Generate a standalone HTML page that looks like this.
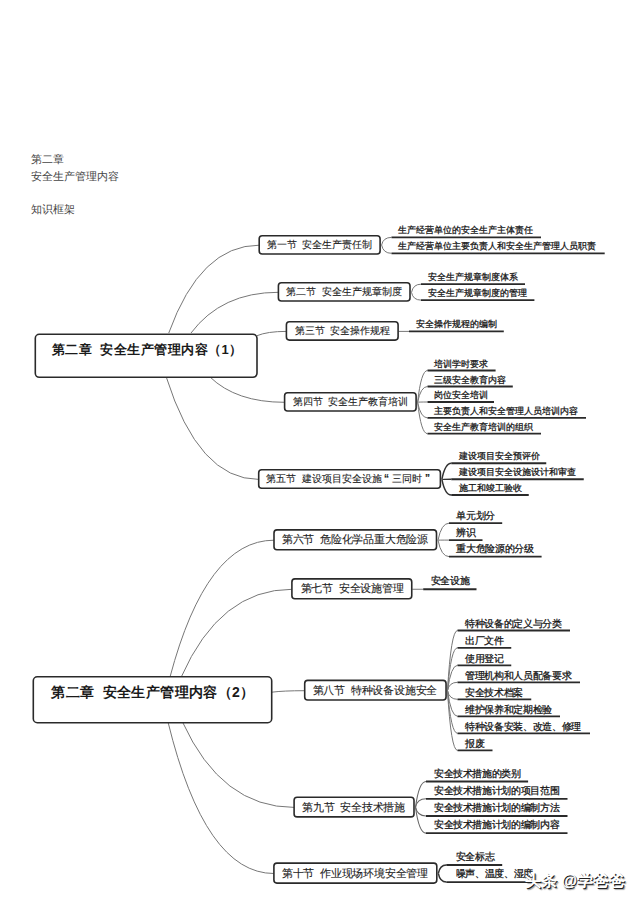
<!DOCTYPE html>
<html><head><meta charset="utf-8"><style>
html,body{margin:0;padding:0;background:#fff;width:640px;height:905px;overflow:hidden;position:relative}
body{font-family:"Liberation Sans", sans-serif;color:#222}
.bx{position:absolute;border-style:solid;border-color:#333;background:#fff;box-sizing:content-box}
.t{position:absolute;white-space:nowrap;color:#111;-webkit-text-stroke:0.25px #111}
.hd{position:absolute;left:31px;font-family:"Liberation Serif", serif;font-size:11px;line-height:11px;color:#444;white-space:nowrap}
svg{position:absolute;left:0;top:0}
svg path{fill:none;stroke:#777;stroke-width:1}
svg path.u{stroke:#2a2a2a;stroke-width:1.8}
svg rect{fill:#fff;stroke:#2a2a2a}
svg path.dk{stroke:#333;stroke-width:1.5}
svg path.md{stroke:#666;stroke-width:1.1}
.wm{position:absolute;left:525px;top:873px;font-size:16px;line-height:16px;font-weight:bold;color:#fff;text-shadow:1px 1px 0.6px #222,1.5px 1.5px 1px rgba(0,0,0,.35);white-space:nowrap}
</style></head><body>
<div class="hd" style="top:154px">第二章</div>
<div class="hd" style="top:170.5px">安全生产管理内容</div>
<div class="hd" style="top:204px">知识框架</div>
<svg width="640" height="905" viewBox="0 0 640 905">
<path d="M168.75,333.00 Q200.41,245.20 259.20,245.20" />
<path d="M191.00,333.00 Q221.59,292.30 278.40,292.30" />
<path d="M257.00,335.70 Q267.29,331.40 286.40,331.40" />
<path d="M210.00,377.00 Q236.11,402.30 284.60,402.30" />
<path d="M166.25,377.00 Q198.61,479.40 258.70,479.40" />
<path d="M381.60,245.00 Q383.12,237.40 391.50,237.40" />
<path class="u" d="M391.50,237.40 L541.00,237.40" />
<path d="M381.60,245.00 Q383.26,253.30 391.50,253.30" />
<path class="u" d="M391.50,253.30 L604.70,253.30" />
<path d="M411.50,292.40 Q413.14,284.20 421.00,284.20" />
<path class="u" d="M421.00,284.20 L525.00,284.20" />
<path d="M411.50,292.40 Q413.04,300.10 421.00,300.10" />
<path class="u" d="M421.00,300.10 L534.40,300.10" />
<path d="M398.60,331.40 L409.00,331.40" />
<path class="u" d="M409.00,331.40 L503.80,331.40" />
<path d="M417.60,402.30 Q421.10,370.50 427.50,370.50" />
<path class="u" d="M427.50,370.50 L495.60,370.50" />
<path d="M417.60,402.30 Q420.76,386.50 427.50,386.50" />
<path class="u" d="M427.50,386.50 L512.80,386.50" />
<path d="M417.60,402.30 Q417.66,402.00 427.50,402.00" />
<path class="u" d="M427.50,402.00 L494.00,402.00" />
<path d="M417.60,402.30 Q420.72,417.90 427.50,417.90" />
<path class="u" d="M427.50,417.90 L586.00,417.90" />
<path d="M417.60,402.30 Q421.10,433.70 427.50,433.70" />
<path class="u" d="M427.50,433.70 L541.00,433.70" />
<path d="M441.90,479.30 Q445.11,463.25 451.25,463.25" class="dk" />
<path class="u" d="M451.25,463.25 L546.25,463.25" />
<path d="M441.90,479.30 Q441.91,479.25 451.25,479.25" class="dk" />
<path class="u" d="M451.25,479.25 L583.75,479.25" />
<path d="M441.90,479.30 Q445.04,495.00 451.25,495.00" class="dk" />
<path class="u" d="M451.25,495.00 L528.75,495.00" />
<path d="M170.00,677.00 Q206.40,540.20 274.00,540.20" />
<path d="M181.25,677.00 Q219.98,589.30 291.90,589.30" />
<path d="M271.70,692.20 Q283.25,690.70 304.70,690.70" />
<path d="M182.50,722.00 Q221.56,807.40 294.10,807.40" />
<path d="M168.00,722.00 Q205.06,873.50 273.90,873.50" />
<path d="M438.00,540.20 Q441.40,523.20 449.00,523.20" />
<path class="u" d="M449.00,523.20 L502.20,523.20" />
<path d="M438.00,540.20 Q438.02,540.10 449.00,540.10" />
<path class="u" d="M449.00,540.10 L482.50,540.10" />
<path d="M438.00,540.20 Q441.28,556.60 449.00,556.60" />
<path class="u" d="M449.00,556.60 L541.60,556.60" />
<path d="M412.25,589.25 L423.20,589.25" />
<path class="u" d="M423.20,589.25 L476.50,589.25" />
<path d="M447.50,690.60 Q451.00,630.50 457.50,630.50" />
<path class="u" d="M457.50,630.50 L570.00,630.50" />
<path d="M447.50,690.60 Q451.00,647.80 457.50,647.80" />
<path class="u" d="M457.50,647.80 L511.25,647.80" />
<path d="M447.50,690.60 Q451.00,665.30 457.50,665.30" />
<path class="u" d="M457.50,665.30 L511.25,665.30" />
<path d="M447.50,690.60 Q449.16,682.30 457.50,682.30" />
<path class="u" d="M457.50,682.30 L580.00,682.30" />
<path d="M447.50,690.60 Q449.24,699.30 457.50,699.30" />
<path class="u" d="M457.50,699.30 L531.25,699.30" />
<path d="M447.50,690.60 Q451.00,716.30 457.50,716.30" />
<path class="u" d="M457.50,716.30 L560.00,716.30" />
<path d="M447.50,690.60 Q451.00,733.30 457.50,733.30" />
<path class="u" d="M457.50,733.30 L590.00,733.30" />
<path d="M447.50,690.60 Q451.00,750.40 457.50,750.40" />
<path class="u" d="M457.50,750.40 L492.50,750.40" />
<path d="M415.50,807.20 Q419.00,781.50 426.00,781.50" class="md" />
<path class="u" d="M426.00,781.50 L528.10,781.50" />
<path d="M415.50,807.20 Q417.18,798.80 426.00,798.80" class="md" />
<path class="u" d="M426.00,798.80 L567.50,798.80" />
<path d="M415.50,807.20 Q417.26,816.00 426.00,816.00" class="md" />
<path class="u" d="M426.00,816.00 L567.50,816.00" />
<path d="M415.50,807.20 Q419.00,833.10 426.00,833.10" class="md" />
<path class="u" d="M426.00,833.10 L567.50,833.10" />
<path d="M438.30,873.40 Q439.98,865.00 446.30,865.00" class="dk" />
<path class="u" d="M446.30,865.00 L502.20,865.00" />
<path d="M438.30,873.40 Q440.04,882.10 446.30,882.10" class="dk" />
<path class="u" d="M446.30,882.10 L530.00,882.10" />
<rect x="35.30" y="334.30" width="221.70" height="43.00" rx="4" ry="4" style="stroke-width:1.6px" />
<rect x="259.20" y="235.80" width="120.90" height="18.20" rx="3" ry="3" style="stroke-width:1.6px" />
<rect x="278.40" y="282.80" width="131.60" height="18.20" rx="3" ry="3" style="stroke-width:1.6px" />
<rect x="286.40" y="321.80" width="111.70" height="18.30" rx="3" ry="3" style="stroke-width:1.6px" />
<rect x="284.60" y="392.80" width="131.50" height="18.20" rx="3" ry="3" style="stroke-width:1.6px" />
<rect x="258.70" y="469.80" width="181.70" height="18.40" rx="3" ry="3" style="stroke-width:1.6px" />
<rect x="33.30" y="676.80" width="238.40" height="45.90" rx="4" ry="4" style="stroke-width:1.6px" />
<rect x="274.00" y="529.90" width="162.50" height="19.90" rx="3" ry="3" style="stroke-width:1.6px" />
<rect x="291.90" y="578.90" width="119.85" height="19.90" rx="3" ry="3" style="stroke-width:1.6px" />
<rect x="304.70" y="680.40" width="141.35" height="19.60" rx="3" ry="3" style="stroke-width:1.6px" />
<rect x="294.10" y="797.20" width="119.90" height="19.70" rx="3" ry="3" style="stroke-width:1.6px" />
<rect x="273.90" y="863.10" width="162.90" height="20.00" rx="3" ry="3" style="stroke-width:1.6px" />
</svg>
<div class="t" style="left:52.00px;top:342.80px;font-size:13px;line-height:13px;letter-spacing:0.45px;font-weight:bold;-webkit-text-stroke:0;color:#1a1a1a;">第二章&nbsp; 安全生产管理内容（1）</div>
<div class="t" style="left:266.50px;top:239.90px;font-size:10px;line-height:10px;letter-spacing:0px;-webkit-text-stroke:0.1px #222;color:#222;">第一节&nbsp; 安全生产责任制</div>
<div class="t" style="left:286.00px;top:286.90px;font-size:10px;line-height:10px;letter-spacing:0px;-webkit-text-stroke:0.1px #222;color:#222;">第二节&nbsp; 安全生产规章制度</div>
<div class="t" style="left:294.50px;top:325.95px;font-size:10px;line-height:10px;letter-spacing:0px;-webkit-text-stroke:0.1px #222;color:#222;">第三节&nbsp; 安全操作规程</div>
<div class="t" style="left:292.50px;top:396.90px;font-size:10px;line-height:10px;letter-spacing:0px;-webkit-text-stroke:0.1px #222;color:#222;">第四节&nbsp; 安全生产教育培训</div>
<div class="t" style="left:266.00px;top:474.00px;font-size:10px;line-height:10px;letter-spacing:0px;-webkit-text-stroke:0.1px #222;color:#222;">第五节&nbsp; 建设项目安全设施<span style="margin:0 2.5px 0 2.5px;font-weight:bold">“</span>三同时<span style="margin-left:3.5px;font-weight:bold">”</span></div>
<div class="t s" style="left:397.90px;top:226.40px;font-size:9px;line-height:9px;letter-spacing:0px">生产经营单位的安全生产主体责任</div>
<div class="t s" style="left:397.90px;top:242.30px;font-size:9px;line-height:9px;letter-spacing:0px">生产经营单位主要负责人和安全生产管理人员职责</div>
<div class="t s" style="left:428.30px;top:273.20px;font-size:9px;line-height:9px;letter-spacing:0px">安全生产规章制度体系</div>
<div class="t s" style="left:428.30px;top:289.10px;font-size:9px;line-height:9px;letter-spacing:0px">安全生产规章制度的管理</div>
<div class="t s" style="left:416.30px;top:320.40px;font-size:9px;line-height:9px;letter-spacing:0px">安全操作规程的编制</div>
<div class="t s" style="left:434.30px;top:359.50px;font-size:9px;line-height:9px;letter-spacing:0px">培训学时要求</div>
<div class="t s" style="left:434.30px;top:375.50px;font-size:9px;line-height:9px;letter-spacing:0px">三级安全教育内容</div>
<div class="t s" style="left:434.30px;top:391.00px;font-size:9px;line-height:9px;letter-spacing:0px">岗位安全培训</div>
<div class="t s" style="left:434.30px;top:406.90px;font-size:9px;line-height:9px;letter-spacing:0px">主要负责人和安全管理人员培训内容</div>
<div class="t s" style="left:434.30px;top:422.70px;font-size:9px;line-height:9px;letter-spacing:0px">安全生产教育培训的组织</div>
<div class="t s" style="left:458.75px;top:452.25px;font-size:9px;line-height:9px;letter-spacing:0px">建设项目安全预评价</div>
<div class="t s" style="left:458.75px;top:468.25px;font-size:9px;line-height:9px;letter-spacing:0px">建设项目安全设施设计和审查</div>
<div class="t s" style="left:458.75px;top:484.00px;font-size:9px;line-height:9px;letter-spacing:0px">施工和竣工验收</div>
<div class="t" style="left:51.25px;top:685.45px;font-size:14px;line-height:14px;letter-spacing:0.35px;font-weight:bold;-webkit-text-stroke:0;color:#1a1a1a;">第二章&nbsp; 安全生产管理内容（2）</div>
<div class="t" style="left:281.90px;top:534.35px;font-size:11px;line-height:11px;letter-spacing:-0.2px;-webkit-text-stroke:0.1px #222;color:#222;">第六节&nbsp; 危险化学品重大危险源</div>
<div class="t" style="left:300.60px;top:583.35px;font-size:11px;line-height:11px;letter-spacing:-0.2px;-webkit-text-stroke:0.1px #222;color:#222;">第七节&nbsp; 安全设施管理</div>
<div class="t" style="left:312.60px;top:684.70px;font-size:11px;line-height:11px;letter-spacing:-0.2px;-webkit-text-stroke:0.1px #222;color:#222;">第八节&nbsp; 特种设备设施安全</div>
<div class="t" style="left:302.00px;top:801.55px;font-size:11px;line-height:11px;letter-spacing:-0.2px;-webkit-text-stroke:0.1px #222;color:#222;">第九节&nbsp; 安全技术措施</div>
<div class="t" style="left:281.90px;top:867.60px;font-size:11px;line-height:11px;letter-spacing:-0.2px;-webkit-text-stroke:0.1px #222;color:#222;">第十节&nbsp; 作业现场环境安全管理</div>
<div class="t s" style="left:456.30px;top:510.70px;font-size:10px;line-height:10px;letter-spacing:-0.35px">单元划分</div>
<div class="t s" style="left:456.30px;top:527.60px;font-size:10px;line-height:10px;letter-spacing:-0.35px">辨识</div>
<div class="t s" style="left:456.30px;top:544.10px;font-size:10px;line-height:10px;letter-spacing:-0.35px">重大危险源的分级</div>
<div class="t s" style="left:430.60px;top:576.25px;font-size:10px;line-height:10px;letter-spacing:-0.35px">安全设施</div>
<div class="t s" style="left:465.00px;top:618.80px;font-size:10px;line-height:10px;letter-spacing:-0.35px">特种设备的定义与分类</div>
<div class="t s" style="left:465.00px;top:636.10px;font-size:10px;line-height:10px;letter-spacing:-0.35px">出厂文件</div>
<div class="t s" style="left:465.00px;top:653.60px;font-size:10px;line-height:10px;letter-spacing:-0.35px">使用登记</div>
<div class="t s" style="left:465.00px;top:670.60px;font-size:10px;line-height:10px;letter-spacing:-0.35px">管理机构和人员配备要求</div>
<div class="t s" style="left:465.00px;top:687.60px;font-size:10px;line-height:10px;letter-spacing:-0.35px">安全技术档案</div>
<div class="t s" style="left:465.00px;top:704.60px;font-size:10px;line-height:10px;letter-spacing:-0.35px">维护保养和定期检验</div>
<div class="t s" style="left:465.00px;top:721.60px;font-size:10px;line-height:10px;letter-spacing:-0.35px">特种设备安装、改造、修理</div>
<div class="t s" style="left:465.00px;top:738.70px;font-size:10px;line-height:10px;letter-spacing:-0.35px">报废</div>
<div class="t s" style="left:433.90px;top:768.50px;font-size:10px;line-height:10px;letter-spacing:-0.35px">安全技术措施的类别</div>
<div class="t s" style="left:433.90px;top:785.80px;font-size:10px;line-height:10px;letter-spacing:-0.35px">安全技术措施计划的项目范围</div>
<div class="t s" style="left:433.90px;top:803.00px;font-size:10px;line-height:10px;letter-spacing:-0.35px">安全技术措施计划的编制方法</div>
<div class="t s" style="left:433.90px;top:820.10px;font-size:10px;line-height:10px;letter-spacing:-0.35px">安全技术措施计划的编制内容</div>
<div class="t s" style="left:455.80px;top:852.00px;font-size:10px;line-height:10px;letter-spacing:-0.35px">安全标志</div>
<div class="t s" style="left:455.80px;top:869.10px;font-size:10px;line-height:10px;letter-spacing:-0.35px">噪声、温度、湿度</div>
<div class="wm">头条 @学爸爸</div>
</body></html>
